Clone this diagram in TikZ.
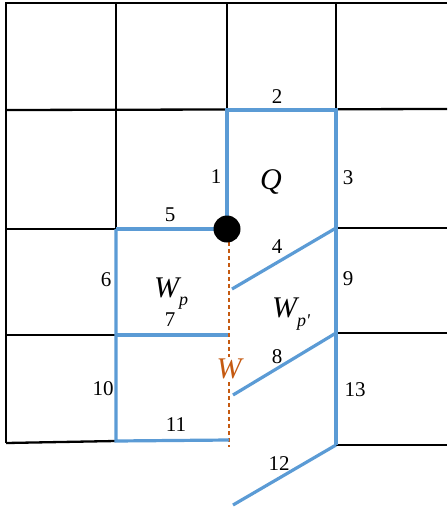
\documentclass[tikz,border=0pt]{standalone}
\usepackage{fontspec}
\setmainfont{Liberation Serif}
\definecolor{cellblue}{HTML}{5B9BD5}
\definecolor{wellorange}{HTML}{C55A11}
\tikzset{
  gridline/.style={line width=2.3pt, black},
  faceline/.style={line width=3.2pt, cellblue},
  num/.style={inner sep=0pt, font=\fontsize{21}{21}\selectfont},
  sym/.style={inner sep=0pt, font=\fontsize{30}{30}\selectfont\itshape}
}
\begin{document}
\begin{tikzpicture}[x=1pt,y=-1pt]
			\useasboundingbox (0,0) rectangle (447,511);
			\draw[gridline](5,3) -- (447,3);
			\draw[gridline](6,3) -- (6,443);
			\draw[gridline](116,3) -- (116,229);
			\draw[gridline](227,3) -- (227,110);
			\draw[gridline](336,3) -- (336,110);
			\draw[gridline](6,110) -- (447,109);
			\draw[gridline](6,229) -- (116,229);
			\draw[gridline](336,228) -- (447,228);
			\draw[gridline](6,335) -- (116,335);
			\draw[gridline](336,333) -- (447,333);
			\draw[gridline](6,443) -- (116,441);
			\draw[gridline](336,445) -- (447,445);
			\draw[wellorange, line width=1.2pt, dash pattern=on 4pt off 3pt](229,242) -- (229,447);
			\draw[faceline](227,229) -- (227,110) -- (336,110) -- (336,445);
			\draw[faceline](116,229) -- (227,229);
			\draw[faceline](116,229) -- (116,441) -- (229,440);
			\draw[faceline](116,335) -- (228,335);
			\draw[faceline](336,228) -- (232,289);
			\draw[faceline](336,333) -- (233,395);
			\draw[faceline](336,445) -- (233,505);
			\fill (227,229) circle(13.5) coordinate (well);
			\node[num] (e1) at (216,177) {1};
			\node[num] (e2) at (277,97) {2};
			\node[num] (e3) at (348,178) {3};
			\node[num] (e4) at (277,247) {4};
			\node[num] (e5) at (170,215) {5};
			\node[num] (e6) at (106,280) {6};
			\node[num] (e7) at (170,320) {7};
			\node[num] (e8) at (277,357) {8};
			\node[num] (e9) at (348,279) {9};
			\node[num] (e10) at (103,389) {10};
			\node[num] (e11) at (176,425) {11};
			\node[num] (e12) at (279,464) {12};
			\node[num] (e13) at (355,390) {13};
			\node[sym, anchor=base] (q) at (271,189) {Q};
			\node[sym, anchor=base west] (wp) at (154,297) {W\raisebox{-8pt}{\fontsize{18}{18}\selectfont p}};
			\node[sym, anchor=base west] (wpp) at (272,317) {W\raisebox{-9pt}{\fontsize{18}{18}\selectfont p\textquotesingle}};
			\node[sym, anchor=base, text=wellorange, fill=white, inner sep=1pt] (w) at (229,378) {W};
		\end{tikzpicture}
\end{document}
